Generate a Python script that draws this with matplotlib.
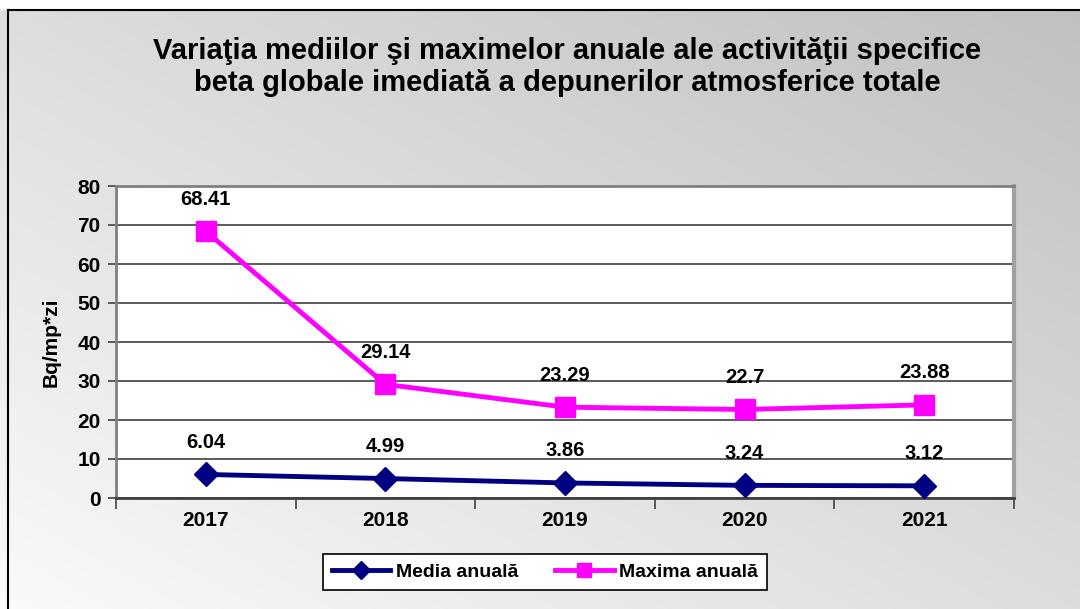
import numpy as np
import matplotlib.pyplot as plt
from matplotlib.patches import Rectangle

plt.rcParams['font.family'] = ['Liberation Sans', 'DejaVu Sans']
plt.rcParams['font.weight'] = 'bold'

years = ['2017', '2018', '2019', '2020', '2021']
media = [6.04, 4.99, 3.86, 3.24, 3.12]
maxima = [68.41, 29.14, 23.29, 22.7, 23.88]
media_labels = ['6.04', '4.99', '3.86', '3.24', '3.12']
maxima_labels = ['68.41', '29.14', '23.29', '22.7', '23.88']

W, H = 1080, 609
fig = plt.figure(figsize=(W / 100, H / 100), dpi=100)

# gradient background (grey top-right -> white bottom-left)
bg = fig.add_axes([0, 0, 1, 1], zorder=-10)
xx, yy = np.meshgrid(np.linspace(0, 1, 300), np.linspace(1, 0, 200))
u = (xx + yy) / 2
grad = 250 - 58 * u
bg.imshow(np.dstack([grad, grad, grad]).astype(np.uint8), aspect='auto',
          extent=[0, 1, 0, 1], interpolation='bilinear')
bg.set_xlim(0, 1)
bg.set_ylim(0, 1)
bg.axis('off')
# white strip on top and frame line
fig.patches.append(Rectangle((0, 1 - 10 / H), 1, 10 / H, transform=fig.transFigure,
                             facecolor='white', edgecolor='none', zorder=-5))
fig.lines.append(plt.Line2D([8 / W, 1], [1 - 10 / H, 1 - 10 / H], transform=fig.transFigure,
                            color='black', lw=1.5))
fig.lines.append(plt.Line2D([8 / W, 8 / W], [0, 1 - 10 / H], transform=fig.transFigure,
                            color='black', lw=1.5))

fig.text(567 / W, 1 - 67 / H, 'Variaţia mediilor şi maximelor anuale ale activităţii specifice\n'
         'beta globale imediată a depunerilor atmosferice totale',
         ha='center', va='center', fontsize=21, fontweight='bold', linespacing=1.2)

ax = fig.add_axes([116 / W, 1 - 498 / H, (1014 - 116) / W, (498 - 186) / H])
ax.set_facecolor('white')
x = np.arange(len(years))

ax.plot(x, media, color='#000080', lw=3.5, marker='D', markersize=12, zorder=3,
        label='Media anuală')
ax.plot(x, maxima, color='#FF00FF', lw=3.5, marker='s', markersize=14, zorder=3,
        label='Maxima anuală')

for xi, v, t in zip(x, media, media_labels):
    ax.annotate(t, (xi, v), xytext=(0, 32), textcoords='offset pixels',
                ha='center', va='center', fontsize=14.5, fontweight='bold')
for xi, v, t in zip(x, maxima, maxima_labels):
    ax.annotate(t, (xi, v), xytext=(0, 32), textcoords='offset pixels',
                ha='center', va='center', fontsize=14.5, fontweight='bold')

ax.set_xlim(-0.5, len(years) - 0.5)
ax.set_ylim(0, 80)
ax.set_yticks(np.arange(0, 81, 10))
ax.set_xticks(x)
ax.set_xticklabels(years)
ax.set_xticks(np.arange(-0.5, len(years)), minor=True)
ax.tick_params(axis='x', which='major', length=0, pad=9, labelsize=15)
ax.tick_params(axis='x', which='minor', length=8, width=1.2, color='#404040', direction='out')
ax.tick_params(axis='y', length=6, width=1.2, color='#404040', labelsize=15, pad=5)
for lab in ax.get_xticklabels() + ax.get_yticklabels():
    lab.set_fontweight('bold')

ax.yaxis.grid(True, color='#404040', lw=1.2)
ax.set_axisbelow(True)
ax.spines['left'].set_color('#808080')
ax.spines['left'].set_linewidth(2)
ax.spines['bottom'].set_color('#404040')
ax.spines['bottom'].set_linewidth(2)
ax.spines['top'].set_color('#808080')
ax.spines['top'].set_linewidth(2)
ax.spines['right'].set_color('#a0a0a0')
ax.spines['right'].set_linewidth(3)

ax.set_ylabel('Bq/mp*zi', fontsize=15, fontweight='bold', labelpad=12)

leg = fig.legend(loc='center', bbox_to_anchor=(545 / W, 1 - 572 / H), ncol=2,
                 fancybox=False, edgecolor='black', framealpha=1,
                 handlelength=3.0, columnspacing=1.9, borderpad=0.45, handletextpad=0.3,
                 borderaxespad=0.3, markerscale=0.75, prop={'weight': 'bold', 'size': 14})
leg.get_frame().set_linewidth(1.2)

fig.savefig('out.png', dpi=100)
